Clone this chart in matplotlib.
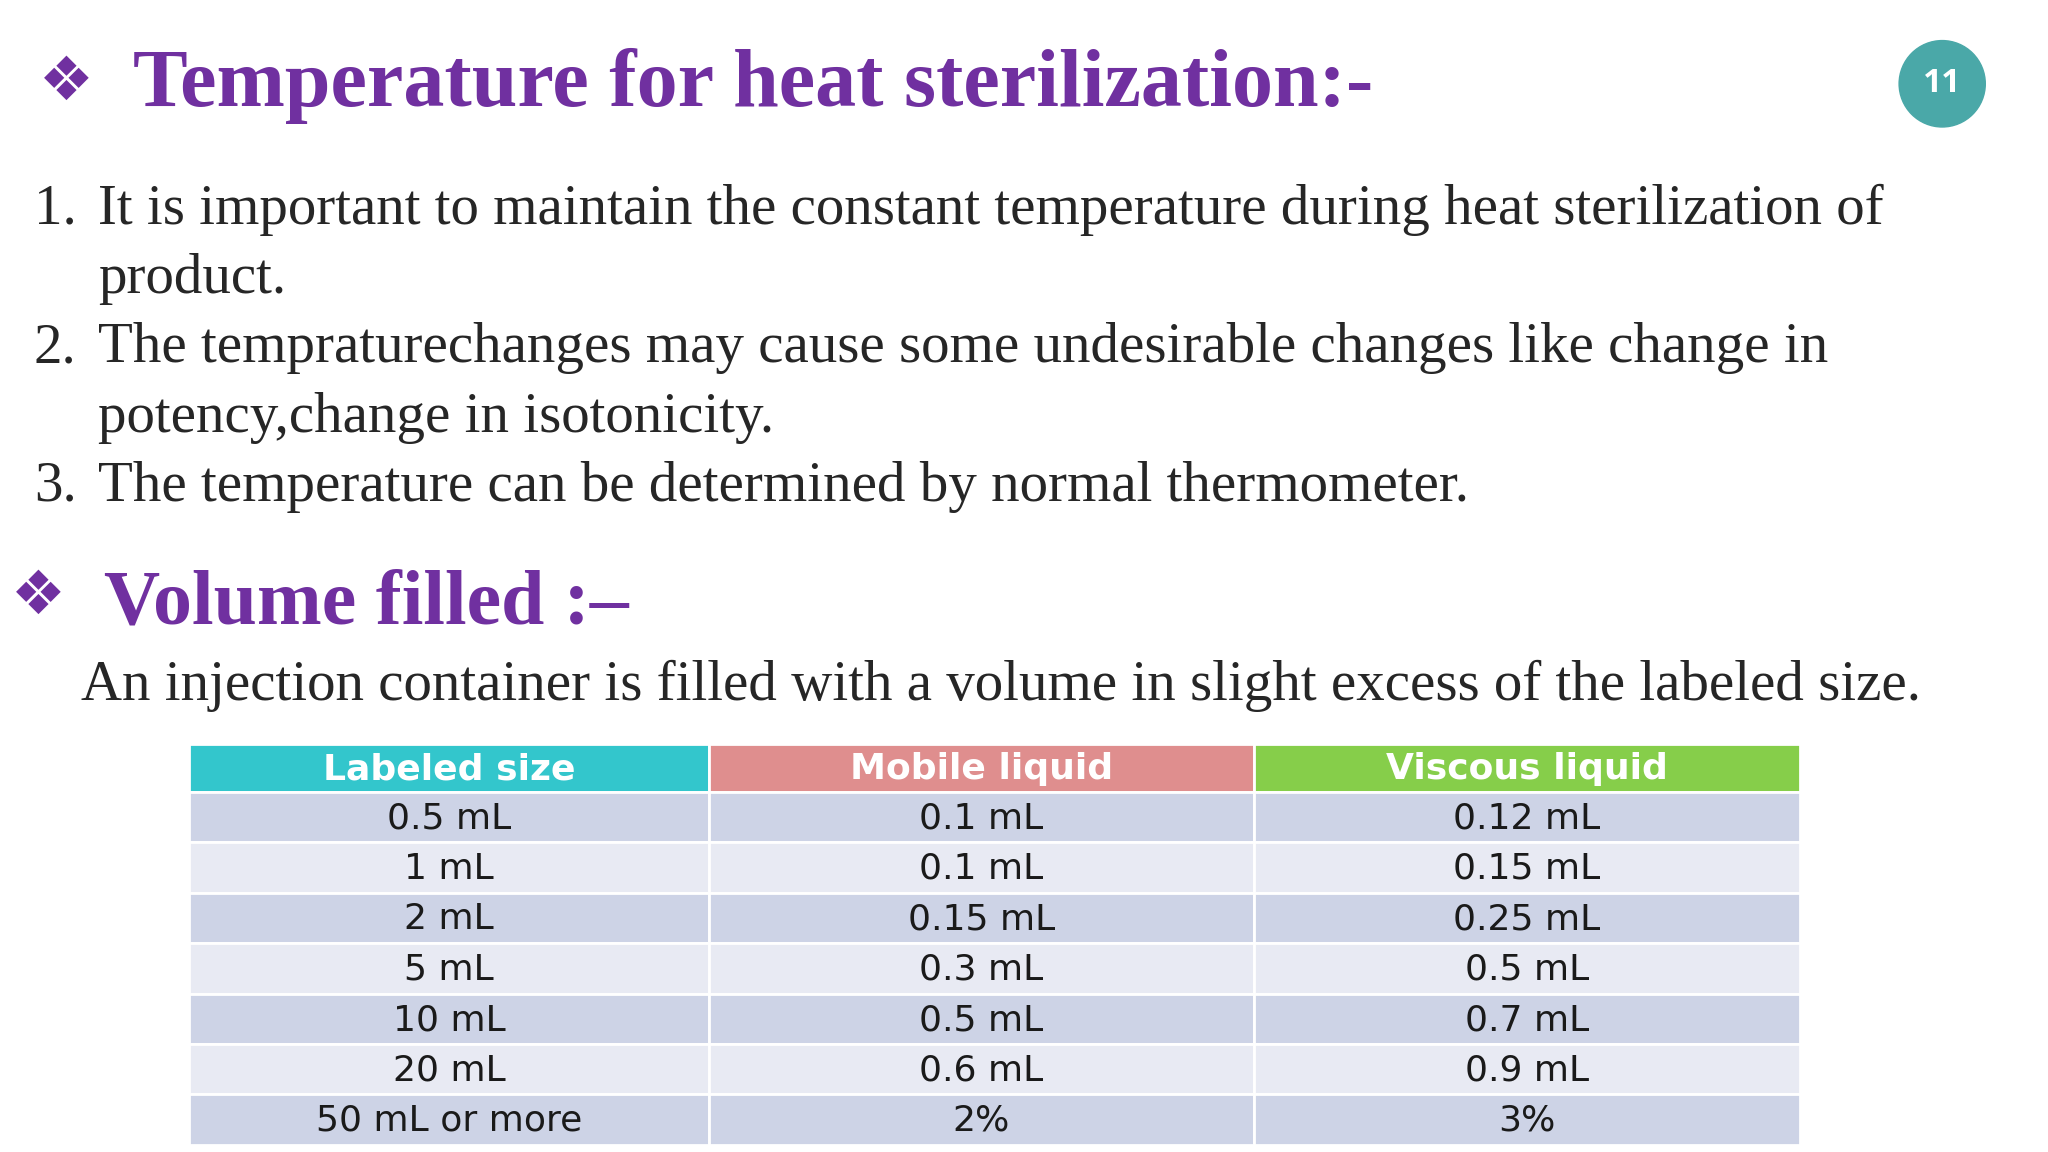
import matplotlib
matplotlib.use("Agg")
import matplotlib.pyplot as plt
from matplotlib.patches import Rectangle, Circle

# slide text
title_1 = "Temperature for heat sterilization:-"
points = [
    ("1.", "It is important to maintain the constant temperature during heat sterilization of"),
    ("",   "product."),
    ("2.", "The tempraturechanges may cause some undesirable changes like change in"),
    ("",   "potency,change in isotonicity."),
    ("3.", "The temperature can be determined by normal thermometer."),
]
title_2 = "Volume filled :\u2013"
intro = "An injection container is filled with a volume in slight excess of the labeled size."

# table data
headers = ["Labeled size", "Mobile liquid", "Viscous liquid"]
labeled = ["0.5 mL", "1 mL", "2 mL", "5 mL", "10 mL", "20 mL", "50 mL or more"]
mobile = ["0.1 mL", "0.1 mL", "0.15 mL", "0.3 mL", "0.5 mL", "0.6 mL", "2%"]
viscous = ["0.12 mL", "0.15 mL", "0.25 mL", "0.5 mL", "0.7 mL", "0.9 mL", "3%"]

W, H = 1568, 880  # reference layout units
PURPLE = "#7030A0"
SERIF = ["Liberation Serif", "DejaVu Serif"]
SYM = ["DejaVu Sans"]
TFONT = ["DejaVu Sans"]

fig = plt.figure(figsize=(20.48, 11.52), dpi=100)
ax = fig.add_axes([0, 0, 1, 1])
ax.set_xlim(0, W)
ax.set_ylim(H, 0)
ax.axis("off")

# headings
ax.text(30, 64, "\u2756", family=SYM, fontsize=44, color=PURPLE, va="center")
ax.text(102, 66, title_1, family=SERIF, fontsize=59, weight="bold", color=PURPLE, va="center")
ax.text(8, 456, "\u2756", family=SYM, fontsize=44, color=PURPLE, va="center")
ax.text(80, 462, title_2, family=SERIF, fontsize=56, weight="bold", color=PURPLE, va="center")

# page badge
ax.add_patch(Circle((1487, 64), 33, color="#4AA8A8"))
ax.text(1487, 64, "11", fontsize=24, weight="bold", color="white", ha="center", va="center",
        family=["Open Sans", "DejaVu Sans"])

# numbered points
y0, dy = 160, 53
for i, (num, line) in enumerate(points):
    y = y0 + i * dy
    if num:
        ax.text(26, y, num, family=SERIF, fontsize=41, color="#262626", va="center")
    ax.text(75, y, line, family=SERIF, fontsize=41, color="#262626", va="center")
ax.text(62, 524, intro, family=SERIF, fontsize=41, color="#262626", va="center")

# table
col_x = [145, 543, 960, 1378]
head_colors = ["#33C6CC", "#DF8E8E", "#86CE4A"]
top, head_h, row_h = 568, 37, 38.5
for j, h in enumerate(headers):
    ax.add_patch(Rectangle((col_x[j], top), col_x[j + 1] - col_x[j], head_h,
                           facecolor=head_colors[j], edgecolor="white", lw=2))
    ax.text((col_x[j] + col_x[j + 1]) / 2, top + head_h / 2 + 1, h, fontsize=26,
            weight="bold", color="white", ha="center", va="center", family=TFONT)

cols = [labeled, mobile, viscous]
for i in range(len(labeled)):
    y = top + head_h + i * row_h
    fc = "#CDD3E6" if i % 2 == 0 else "#E8EAF3"
    for j in range(3):
        ax.add_patch(Rectangle((col_x[j], y), col_x[j + 1] - col_x[j], row_h,
                               facecolor=fc, edgecolor="white", lw=2))
        ax.text((col_x[j] + col_x[j + 1]) / 2, y + row_h / 2 + 1, cols[j][i], fontsize=26,
                color="#1a1a1a", ha="center", va="center", family=TFONT)

fig.savefig("out.png", dpi=100, facecolor="white")
